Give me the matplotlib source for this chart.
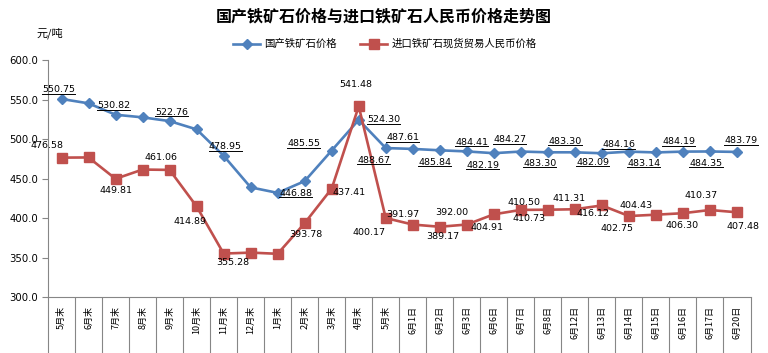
import matplotlib
matplotlib.use("Agg")
import matplotlib.pyplot as plt
from matplotlib.lines import Line2D
from matplotlib.ticker import FixedLocator, FormatStrFormatter

plt.rcParams['font.family'] = ['DejaVu Sans', 'Noto Sans CJK SC']

categories = ["5月末", "6月末", "7月末", "8月末", "9月末", "10月末", "11月末", "12月末",
              "1月末", "2月末", "3月末", "4月末", "5月末", "6月1日", "6月2日", "6月3日",
              "6月6日", "6月7日", "6月8日", "6月12日", "6月13日", "6月14日", "6月15日",
              "6月16日", "6月17日", "6月20日"]
domestic = [550.75, 545.2, 530.82, 527.5, 522.76, 512.3, 478.95, 439.0, 432.0, 446.88,
            485.55, 524.30, 488.67, 487.61, 485.84, 484.41, 482.19, 484.27, 483.30, 483.30,
            482.09, 484.16, 483.14, 484.19, 484.35, 483.79]
imported = [476.58, 476.8, 449.81, 461.5, 461.06, 414.89, 355.28, 356.5, 355.0, 393.78,
            437.41, 541.48, 400.17, 391.97, 389.17, 392.00, 404.91, 410.50, 410.73, 411.31,
            416.12, 402.75, 404.43, 406.30, 410.37, 407.48]
domestic_labeled = [0, 2, 4, 6, 9, 10, 11, 12, 13, 14, 15, 16, 17, 18, 19, 20, 21, 22, 23, 24, 25]
imported_labeled = [0, 2, 4, 5, 6, 9, 10, 11, 12, 13, 14, 15, 16, 17, 18, 19, 20, 21, 22, 23, 24, 25]

title = "国产铁矿石价格与进口铁矿石人民币价格走势图"
unit = "元/吨"
name_dom = "国产铁矿石价格"
name_imp = "进口铁矿石现货贸易人民币价格"

# label offsets in image pixels (dx right, dy down)
dom_off = {0: (-3, -9), 2: (-2, -9), 4: (2, -9), 6: (1.5, -9), 9: (-9, 12), 10: (-28, -7),
           11: (25, 0), 12: (-12, 12), 13: (-10, -11), 14: (-5, 12), 15: (5, -9),
           16: (-11, 12), 17: (-11, -12), 18: (-8, 11), 19: (-10, -11), 20: (-9, 9),
           21: (-10, -7), 22: (-12, 11), 23: (-4, -10), 24: (-4, 12), 25: (4, -11)}
imp_off = {0: (-15, -12), 2: (0, 12), 4: (-9, -12), 5: (-7, 15), 6: (9, 9), 9: (1, 11),
           10: (17, 4), 11: (-3, -22), 12: (-17, 14), 13: (-10, -10), 14: (3, 10),
           15: (-15, -12), 16: (-7, 13), 17: (3, -7), 18: (-19, 9), 19: (-6, -11),
           20: (-9, 8), 21: (-12, 12), 22: (-20, -9), 23: (-1, 12), 24: (-9, -14), 25: (6, 14)}

BLUE = "#4F81BD"
RED = "#C0504D"
GRAY = "#868686"

fig = plt.figure(figsize=(7.68, 3.53), dpi=100)
ax = fig.add_axes([48 / 768, 1 - 297.3 / 353, (750.5 - 48) / 768, (297.3 - 60) / 353])

x = list(range(len(categories)))
ax.plot(x, domestic, color=BLUE, lw=1.9, marker='D', ms=5.5, mec=BLUE, mfc=BLUE,
        label=name_dom, zorder=3)
ax.plot(x, imported, color=RED, lw=1.9, marker='s', ms=6.5, mec=RED, mfc=RED,
        label=name_imp, zorder=3)

ax.set_xlim(-0.5, len(categories) - 0.5)
ax.set_ylim(300, 600)
ax.yaxis.set_major_locator(FixedLocator([300, 350, 400, 450, 500, 550, 600]))
ax.yaxis.set_major_formatter(FormatStrFormatter('%.1f'))
ax.tick_params(axis='y', direction='out', length=4, color=GRAY, labelsize=7.3, pad=3)

ax.set_xticks(x)
ax.set_xticklabels(categories, rotation=90, fontsize=6.5, family=['Noto Sans CJK SC'])
ax.set_xticks([i - 0.5 for i in range(len(categories) + 1)], minor=True)
ax.tick_params(axis='x', which='major', length=0, pad=6)
ax.tick_params(axis='x', which='minor', length=41, color=GRAY, width=0.8, direction='out')

for s in ['top', 'right']:
    ax.spines[s].set_visible(False)
for s in ['left', 'bottom']:
    ax.spines[s].set_color(GRAY)
    ax.spines[s].set_linewidth(0.8)

dom_texts = []
for i in domestic_labeled:
    dx, dy = dom_off[i]
    t = ax.annotate(f"{domestic[i]:.2f}", (x[i], domestic[i]), xytext=(dx, -dy),
                    textcoords='offset pixels', ha='center', va='center', fontsize=6.8,
                    color='black', zorder=4)
    dom_texts.append(t)
for i in imported_labeled:
    dx, dy = imp_off[i]
    ax.annotate(f"{imported[i]:.2f}", (x[i], imported[i]), xytext=(dx, -dy),
                textcoords='offset pixels', ha='center', va='center', fontsize=6.8,
                color='black', zorder=4)

fig.text(0.5, 1 - 16 / 353, title, ha='center', va='center', fontsize=11.5,
         fontweight='bold', family=['Noto Sans CJK SC'])
fig.text(50 / 768, 1 - 33 / 353, unit, ha='center', va='center', fontsize=8,
         family=['Noto Sans CJK SC'])

leg = fig.legend(handles=ax.get_lines(), loc='center', bbox_to_anchor=(385 / 768, 1 - 44 / 353),
                 ncol=2, frameon=False, prop={'family': 'Noto Sans CJK SC', 'size': 7.5},
                 handlelength=2.6, columnspacing=2.2, handletextpad=0.4)

fig.canvas.draw()
r = fig.canvas.get_renderer()
W, H = fig.bbox.width, fig.bbox.height
for t in dom_texts:
    bb = t.get_window_extent(r)
    yy = (bb.y0 + 0.5) / H
    fig.add_artist(Line2D([bb.x0 / W, bb.x1 / W], [yy, yy], color='black', lw=0.7,
                          transform=fig.transFigure))

fig.savefig("out.png", dpi=100)
